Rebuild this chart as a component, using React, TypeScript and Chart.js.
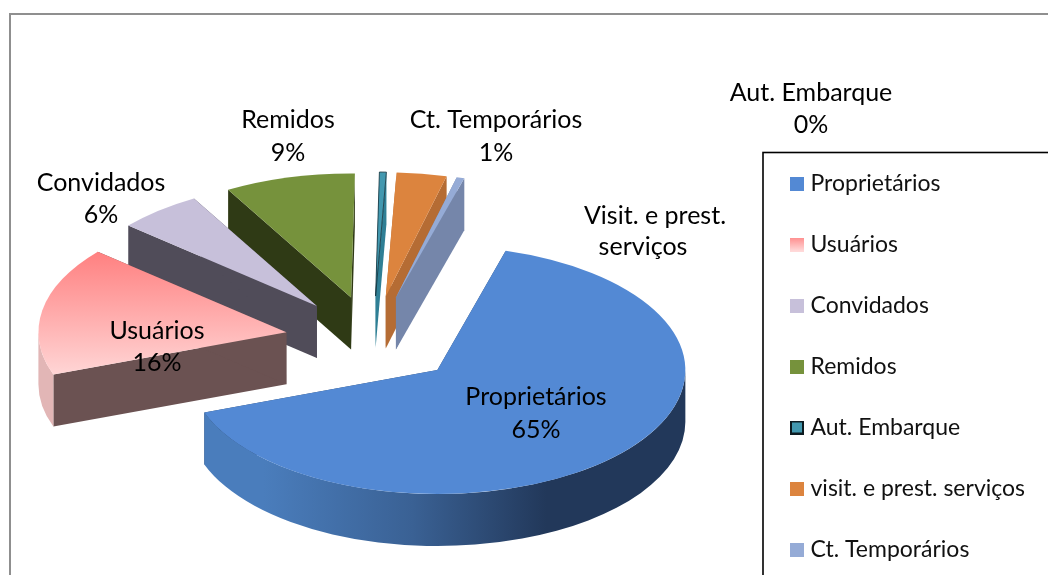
import React, { useEffect, useRef } from "react";
import { Chart, registerables } from "chart.js";

Chart.register(...registerables);

const categories = ["Proprietários", "Usuários", "Convidados", "Remidos", "Aut. Embarque", "visit. e prest. serviços", "Ct. Temporários"];
const shares = [65, 16.8, 5.5, 8.5, 0.45, 3.25, 0.5];

const topColors = ["#5389D4", "#FF8080", "#C7C0DA", "#76923C", "#4298AF", "#DC843E", "#95ABD6"];
const topColorsEnd = ["#5389D4", "#FFD6D6", "#C7C0DA", "#76923C", "#4298AF", "#DC843E", "#95ABD6"];
const cutColors = ["#2B4568", "#6B5252", "#504C59", "#2F3A15", "#2F7F95", "#B56C34", "#7586AA"];
const rimColors = ["#4A7DBC", "#E2B6B6", "#C7C0DA", "#5A702C", "#2F7F95", "#C87838", "#8898BC"];
const swatchTop = ["#5389D4", "#FF8E8E", "#C7C0DA", "#76923C", "#4298AF", "#DC843E", "#95ABD6"];
const swatchEnd = ["#5389D4", "#FFDCDC", "#C7C0DA", "#76923C", "#4298AF", "#DC843E", "#95ABD6"];

const calloutLines = [
  { lines: ["Proprietários", "65%"], xs: [536, 536], ys: [397, 430] },
  { lines: ["Usuários", "16%"], xs: [157, 157], ys: [331, 363] },
  { lines: ["Convidados", "6%"], xs: [101, 101], ys: [183, 215] },
  { lines: ["Remidos", "9%"], xs: [288, 288], ys: [120, 153] },
  { lines: ["Aut. Embarque", "0%"], xs: [811, 811], ys: [93, 125] },
  { lines: ["Visit. e prest.", "serviços"], xs: [655, 643], ys: [216, 247] },
  { lines: ["Ct. Temporários", "1%"], xs: [496, 496], ys: [120, 153] },
];

const FONT = "Lato, Carlito, sans-serif";
const LABEL_SIZE = 25;
const LEGEND_SIZE = 23;
const SQUASH = 0.5;
const DEPTH = 52;
const EXPLODE = 88;
const RADIUS = 248;
const CENTER = { x: 373, y: 340 };
const LEGEND_PAD = 38;

function makeSwatch(i: number) {
  const c = document.createElement("canvas");
  c.width = 14;
  c.height = 14;
  const g = c.getContext("2d")!;
  const grad = g.createLinearGradient(0, 0, 0, 14);
  grad.addColorStop(0, swatchTop[i]);
  grad.addColorStop(1, swatchEnd[i]);
  g.fillStyle = grad;
  g.fillRect(0, 0, 14, 14);
  if (i === 4) {
    g.strokeStyle = "#0d1b20";
    g.lineWidth = 2;
    g.strokeRect(1, 1, 12, 12);
  }
  return c;
}

const pie3d = {
  id: "pie3d",
  beforeDraw(chart: any) {
    const ctx = chart.ctx;
    ctx.save();
    ctx.fillStyle = "#ffffff";
    ctx.fillRect(0, 0, chart.width, chart.height);
    ctx.strokeStyle = "#8F8F8F";
    ctx.lineWidth = 2;
    ctx.strokeRect(10, 14, chart.width + 20, chart.height + 20);
    ctx.strokeStyle = "#000000";
    ctx.lineWidth = 1.6;
    ctx.strokeRect(763, 152.5, chart.width + 20, chart.height + 20);
    ctx.restore();
  },
  afterLayout(chart: any) {
    chart.chartArea.left = CENTER.x - 373;
    chart.chartArea.right = CENTER.x + 373;
    chart.chartArea.top = CENTER.y - 235;
    chart.chartArea.bottom = CENTER.y + 235;
    chart.chartArea.width = 746;
    chart.chartArea.height = 470;
    const lg = chart.legend;
    lg.left = 795 - LEGEND_PAD;
    lg.right = 1048;
    lg.top = 183 - LEGEND_PAD - 11;
    lg.bottom = 700;
  },
  beforeDatasetsDraw(chart: any) {
    const ctx = chart.ctx;
    const arcs = chart.getDatasetMeta(0).data;
    const items = arcs.map((arc: any, i: number) => {
      const a1 = arc.startAngle;
      const a2 = arc.endAngle;
      const mid = (a1 + a2) / 2;
      const d = arc.options.offset;
      return {
        i, a1, a2, r: arc.outerRadius,
        cx: arc.x + Math.cos(mid) * d,
        cy: arc.y + Math.sin(mid) * d * SQUASH,
      };
    });
    items.sort((p: any, q: any) => p.cy - q.cy);
    for (const s of items) {
      const { i, a1, a2, r, cx, cy } = s;
      const ry = r * SQUASH;
      const ex = (a: number) => cx + Math.cos(a) * r;
      const ey = (a: number) => cy + Math.sin(a) * ry;
      ctx.save();
      // radial cut faces
      ctx.fillStyle = cutColors[i];
      for (const a of [a1, a2]) {
        ctx.beginPath();
        ctx.moveTo(cx, cy);
        ctx.lineTo(ex(a), ey(a));
        ctx.lineTo(ex(a), ey(a) + DEPTH);
        ctx.lineTo(cx, cy + DEPTH);
        ctx.closePath();
        ctx.fill();
      }
      // outer rim, front half only
      for (const k of [-2 * Math.PI, 0, 2 * Math.PI]) {
        const lo = Math.max(a1, k);
        const hi = Math.min(a2, k + Math.PI);
        if (hi <= lo) continue;
        if (i === 0) {
          const g = ctx.createLinearGradient(cx - r, 0, cx + r, 0);
          g.addColorStop(0.15, "#4A7DBC");
          g.addColorStop(0.45, "#3A6194");
          g.addColorStop(0.72, "#22385A");
          g.addColorStop(1, "#22385A");
          ctx.fillStyle = g;
        } else {
          ctx.fillStyle = rimColors[i];
        }
        ctx.beginPath();
        ctx.ellipse(cx, cy, r, ry, 0, lo, hi);
        ctx.ellipse(cx, cy + DEPTH, r, ry, 0, hi, lo, true);
        ctx.closePath();
        ctx.fill();
      }
      // top face
      const grad = ctx.createLinearGradient(0, cy - ry * 0.65, 0, cy + ry * 0.35);
      grad.addColorStop(0, topColors[i]);
      grad.addColorStop(1, topColorsEnd[i]);
      ctx.fillStyle = grad;
      ctx.beginPath();
      ctx.moveTo(cx, cy);
      ctx.ellipse(cx, cy, r, ry, 0, a1, a2);
      ctx.closePath();
      ctx.fill();
      if (i === 4) {
        ctx.strokeStyle = "#12303a";
        ctx.lineWidth = 0.8;
        ctx.stroke();
      }
      ctx.restore();
    }
    return false;
  },
  afterDraw(chart: any) {
    const ctx = chart.ctx;
    ctx.save();
    ctx.font = `${LABEL_SIZE}px ${FONT}`;
    ctx.fillStyle = "#000000";
    ctx.textAlign = "center";
    ctx.textBaseline = "middle";
    for (const c of calloutLines) {
      c.lines.forEach((t, j) => ctx.fillText(t, c.xs[j], c.ys[j]));
    }
    ctx.restore();
  },
};

export default function App() {
  const ref = useRef<HTMLCanvasElement>(null);
  useEffect(() => {
    const chart = new Chart(ref.current!, {
      type: "pie",
      data: {
        labels: categories,
        datasets: [{ data: shares, backgroundColor: topColors, borderWidth: 0, offset: EXPLODE }],
      },
      options: {
        responsive: false,
        animation: false,
        rotation: 16,
        radius: RADIUS,
        events: [],
        layout: { padding: 0 },
        plugins: {
          title: { display: false },
          tooltip: { enabled: false },
          legend: {
            display: true,
            position: "right",
            align: "start",
            labels: {
              font: { family: FONT, size: LEGEND_SIZE },
              color: "#111111",
              usePointStyle: true,
              boxWidth: 4,
              boxHeight: 14,
              pointStyleWidth: 4,
              padding: LEGEND_PAD,
              generateLabels: () =>
                categories.map((text, i) => ({
                  text,
                  fontColor: "#111111",
                  pointStyle: makeSwatch(i),
                  fillStyle: topColors[i],
                  strokeStyle: "transparent",
                  lineWidth: 0,
                  hidden: false,
                  index: i,
                })),
            },
          },
        },
      } as any,
      plugins: [pie3d as any],
    });
    return () => chart.destroy();
  }, []);
  return (
    <canvas
      ref={ref}
      width={1048}
      height={575}
      style={{ position: "absolute", left: 0, top: 0, display: "block" }}
    />
  );
}
